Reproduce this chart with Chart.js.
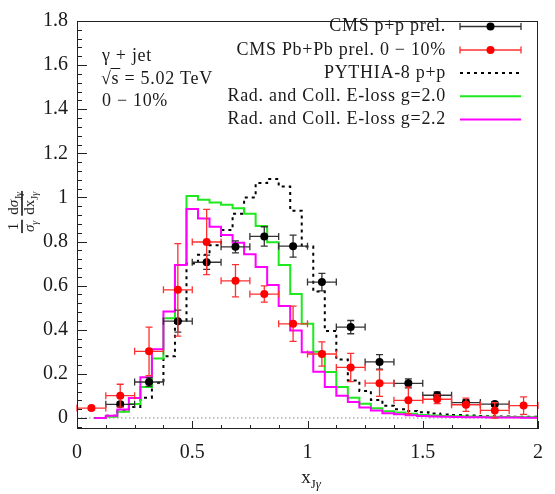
<!DOCTYPE html>
<html>
<head>
<meta charset="utf-8">
<script src="https://cdn.jsdelivr.net/npm/chart.js@4.4.0/dist/chart.umd.min.js"></script>
<style>
  html, body { margin: 0; padding: 0; background: #fff; }
</style>
</head>
<body>
<canvas id="chart" width="555" height="494"></canvas>
<script>
// -------------------------------
// DATA
// -------------------------------
// CMS p+p prel. (black points)
const ppX = [0.1875, 0.3125, 0.4375, 0.5625, 0.6875, 0.8125, 0.9375, 1.0625, 1.1875, 1.3125, 1.4375, 1.5625, 1.6875, 1.8125];
const ppY = [0.062, 0.163, 0.439, 0.706, 0.776, 0.823, 0.779, 0.616, 0.412, 0.254, 0.157, 0.103, 0.07, 0.063];
const ppErrY = [0.01, 0.02, 0.05, 0.032, 0.027, 0.044, 0.05, 0.04, 0.03, 0.033, 0.02, 0.015, 0.012, 0.01];

// CMS Pb+Pb prel. 0-10% (red points)
const pbX = [0.0625, 0.1875, 0.3125, 0.4375, 0.5625, 0.6875, 0.8125, 0.9375, 1.0625, 1.1875, 1.3125, 1.4375, 1.5625, 1.6875, 1.8125, 1.9375];
const pbY = [0.045, 0.101, 0.302, 0.581, 0.798, 0.622, 0.562, 0.427, 0.29, 0.229, 0.158, 0.08, 0.085, 0.06, 0.034, 0.056];
const pbErrY = [0.008, 0.052, 0.11, 0.21, 0.148, 0.073, 0.037, 0.08, 0.055, 0.064, 0.06, 0.06, 0.02, 0.03, 0.035, 0.04];

// bin width of the data points (x error = half of it)
const pointBinWidth = 0.125;

// histogram bin centres for the calculations
const histCenters = [0.10, 0.15, 0.20, 0.25, 0.30, 0.35, 0.40, 0.45, 0.50, 0.55, 0.60, 0.65, 0.70, 0.75, 0.80, 0.85, 0.90, 0.95, 1.00,
                     1.05, 1.10, 1.15, 1.20, 1.25, 1.30, 1.35, 1.40, 1.45, 1.50, 1.55, 1.60, 1.65, 1.70, 1.75, 1.80, 1.85, 1.90, 1.95, 2.00];

const pythiaY = [0.0, 0.01, 0.03, 0.05, 0.092, 0.16, 0.28, 0.44, 0.70, 0.74, 0.783, 0.852, 0.926, 1.0, 1.065, 1.084, 1.05, 0.94, 0.777,
                 0.573, 0.394, 0.265, 0.17, 0.122, 0.082, 0.055, 0.04, 0.032, 0.026, 0.02, 0.016, 0.013, 0.011, 0.009, 0.008, 0.007, 0.006, 0.005, 0.005];

const eloss20Y = [0.0, 0.006, 0.028, 0.063, 0.141, 0.27, 0.452, 0.694, 1.007, 0.989, 0.977, 0.967, 0.951, 0.926, 0.871, 0.797, 0.694, 0.562, 0.427,
                  0.30, 0.208, 0.141, 0.092, 0.064, 0.044, 0.031, 0.025, 0.019, 0.014, 0.011, 0.009, 0.008, 0.007, 0.006, 0.005, 0.004, 0.004, 0.003, 0.003];

const eloss22Y = [0.0, 0.01, 0.038, 0.09, 0.185, 0.312, 0.483, 0.694, 0.948, 0.904, 0.867, 0.830, 0.794, 0.742, 0.684, 0.603, 0.508, 0.397, 0.298,
                  0.21, 0.141, 0.101, 0.072, 0.048, 0.034, 0.021, 0.017, 0.012, 0.009, 0.007, 0.005, 0.004, 0.003, 0.003, 0.002, 0.002, 0.002, 0.001, 0.001];

// axis ticks
const xTicks = [0, 0.5, 1, 1.5, 2];
const yTicks = [0, 0.2, 0.4, 0.6, 0.8, 1.0, 1.2, 1.4, 1.6, 1.8];
const xMinorStep = 0.125;
const yMinorStep = 0.04;

const legendLabels = ["CMS p+p prel.", "CMS Pb+Pb prel. 0 \u2212 10%", "PYTHIA-8 p+p", "Rad. and Coll. E-loss g=2.0", "Rad. and Coll. E-loss g=2.2"];
const infoLines = ["\u03b3 + jet", "s = 5.02 TeV", "0 \u2212 10%"];

// -------------------------------
// HELPERS
// -------------------------------
const SERIF = "'Liberation Serif', 'Times New Roman', serif";

// histogram -> step points at bin left edges (+ closing point)
function histPoints(centers, vals) {
  const pts = [];
  for (let i = 0; i < centers.length; i++) {
    const left = i === 0 ? centers[0] - (centers[1] - centers[0]) / 2 : (centers[i - 1] + centers[i]) / 2;
    pts.push({ x: left, y: vals[i] });
  }
  const n = centers.length;
  pts.push({ x: Math.min(2, centers[n - 1] + (centers[n - 1] - centers[n - 2]) / 2), y: vals[n - 1] });
  return pts;
}

function drawRuns(ctx, runs, x, y) {
  // draws a list of text runs from x, returns end x
  runs.forEach(r => {
    ctx.font = r.font;
    ctx.fillText(r.t, x, y + (r.dy || 0));
    x += ctx.measureText(r.t).width;
  });
  return x;
}

function runsWidth(ctx, runs) {
  let w = 0;
  runs.forEach(r => { ctx.font = r.font; w += ctx.measureText(r.t).width; });
  return w;
}

function drawErrorBar(ctx, xs, ys, x, y, ex, ey, color) {
  const px = xs.getPixelForValue(x), py = ys.getPixelForValue(y);
  const x0 = xs.getPixelForValue(x - ex), x1 = xs.getPixelForValue(x + ex);
  const y0 = ys.getPixelForValue(y - ey), y1 = ys.getPixelForValue(y + ey);
  const cap = 3.5;
  ctx.strokeStyle = color;
  ctx.lineWidth = 1.3;
  ctx.beginPath();
  ctx.moveTo(x0, py); ctx.lineTo(x1, py);
  ctx.moveTo(x0, py - cap); ctx.lineTo(x0, py + cap);
  ctx.moveTo(x1, py - cap); ctx.lineTo(x1, py + cap);
  ctx.moveTo(px, y0); ctx.lineTo(px, y1);
  ctx.moveTo(px - cap, y0); ctx.lineTo(px + cap, y0);
  ctx.moveTo(px - cap, y1); ctx.lineTo(px + cap, y1);
  ctx.stroke();
}

// -------------------------------
// PLUGIN: frame, ticks, error bars, legend, labels
// -------------------------------
const decorPlugin = {
  id: "decor",
  beforeDatasetsDraw(chart) {
    const { ctx, chartArea: a, scales: { y } } = chart;
    const py = y.getPixelForValue(0);
    ctx.save();
    ctx.strokeStyle = "#888";
    ctx.lineWidth = 1;
    ctx.setLineDash([1.5, 2.5]);
    ctx.beginPath();
    ctx.moveTo(a.left, py); ctx.lineTo(a.right, py);
    ctx.stroke();
    ctx.restore();
  },
  beforeDatasetDraw(chart, args) {
    const ds = chart.data.datasets[args.index];
    if (!ds.errY) return;
    const { ctx, scales: { x, y } } = chart;
    ctx.save();
    ds.data.forEach((p, i) => drawErrorBar(ctx, x, y, p.x, p.y, pointBinWidth / 2, ds.errY[i], ds.errColor));
    ctx.restore();
  },
  afterDraw(chart) {
    const { ctx, chartArea: a, scales: { x, y } } = chart;
    ctx.save();

    // frame
    ctx.strokeStyle = "#222";
    ctx.lineWidth = 1;
    ctx.strokeRect(a.left + 0.5, a.top + 0.5, a.right - a.left - 1, a.bottom - a.top - 1);

    // inward ticks
    ctx.beginPath();
    for (let v = 0; v <= 2 + 1e-9; v += xMinorStep) {
      const px = Math.round(x.getPixelForValue(v)) + 0.5;
      const major = xTicks.some(t => Math.abs(t - v) < 1e-9);
      ctx.moveTo(px, a.bottom); ctx.lineTo(px, a.bottom - (major ? 8 : 4));
    }
    for (let v = -0.04; v <= 1.8 + 1e-9; v += yMinorStep) {
      const py = Math.round(y.getPixelForValue(v)) + 0.5;
      const major = yTicks.some(t => Math.abs(t - v) < 1e-6);
      ctx.moveTo(a.left, py); ctx.lineTo(a.left + (major ? 10 : 5), py);
    }
    ctx.stroke();

    ctx.fillStyle = "#1a1a1a";
    ctx.textBaseline = "middle";
    ctx.letterSpacing = "0.7px";

    // legend
    const rowY = [26.5, 50, 73, 96.3, 119.6];
    const textRight = 446, s0 = 460, s1 = 521;
    ctx.textAlign = "right";
    ctx.font = "18px " + SERIF;
    legendLabels.forEach((lab, i) => ctx.fillText(lab, textRight, rowY[i]));
    chart.data.datasets.forEach((ds, i) => {
      const ry = rowY[ds.legendRow];
      if (ds.errY) {
        const mid = (s0 + s1) / 2;
        ctx.strokeStyle = ds.errColor;
        ctx.lineWidth = 1.3;
        ctx.beginPath();
        ctx.moveTo(s0, ry); ctx.lineTo(s1, ry);
        ctx.moveTo(s0, ry - 3.5); ctx.lineTo(s0, ry + 3.5);
        ctx.moveTo(s1, ry - 3.5); ctx.lineTo(s1, ry + 3.5);
        ctx.stroke();
        ctx.fillStyle = ds.backgroundColor;
        ctx.beginPath();
        ctx.arc(mid, ry, 4, 0, Math.PI * 2);
        ctx.fill();
      } else {
        ctx.strokeStyle = ds.borderColor;
        ctx.lineWidth = ds.borderWidth;
        ctx.setLineDash(ds.borderDash || []);
        ctx.beginPath();
        ctx.moveTo(s0, ry); ctx.lineTo(s1, ry);
        ctx.stroke();
        ctx.setLineDash([]);
      }
    });

    // info text
    ctx.fillStyle = "#1a1a1a";
    ctx.textAlign = "left";
    ctx.font = "18px " + SERIF;
    ctx.fillText(infoLines[0], 102, 56);
    // sqrt(s)
    ctx.fillText("\u221a", 101, 79);
    const sx = 101 + ctx.measureText("\u221a").width;
    ctx.fillText(infoLines[1], sx, 79);
    ctx.lineWidth = 1;
    ctx.strokeStyle = "#1a1a1a";
    ctx.beginPath();
    ctx.moveTo(sx - 1, 68.5); ctx.lineTo(sx + ctx.measureText("s").width + 1, 68.5);
    ctx.stroke();
    ctx.fillText(infoLines[2], 102, 101);

    ctx.letterSpacing = "0px";

    // x axis title  x_{J gamma}
    const xt = [
      { t: "x", font: "19px " + SERIF },
      { t: "J", font: "13px " + SERIF, dy: 5 },
      { t: "\u03b3", font: "italic 13px " + SERIF, dy: 5 }
    ];
    ctx.textAlign = "left";
    ctx.textBaseline = "alphabetic";
    drawRuns(ctx, xt, 311 - runsWidth(ctx, xt) / 2, 483);

    // y axis title  1/sigma_gamma  d sigma_{J gamma} / d x_{J gamma}
    ctx.translate(22, 212);
    ctx.rotate(-Math.PI / 2);
    const big = "15px " + SERIF, bigI = "italic 15px " + SERIF, sm = "10px " + SERIF, smI = "italic 10px " + SERIF;
    const n1 = [{ t: "1", font: big }];
    const d1 = [{ t: "\u03c3", font: bigI }, { t: "\u03b3", font: smI, dy: 4 }];
    const n2 = [{ t: "d", font: big }, { t: "\u03c3", font: bigI }, { t: "J", font: sm, dy: 4 }, { t: "\u03b3", font: smI, dy: 4 }];
    const d2 = [{ t: "dx", font: big }, { t: "J", font: sm, dy: 4 }, { t: "\u03b3", font: smI, dy: 4 }];
    const w1 = Math.max(runsWidth(ctx, n1), runsWidth(ctx, d1)) + 2;
    const w2 = Math.max(runsWidth(ctx, n2), runsWidth(ctx, d2)) + 2;
    const gap = 4;
    let fx = -(w1 + gap + w2) / 2;
    ctx.fillStyle = "#1a1a1a";
    ctx.fillRect(fx, -0.8, w1, 1.6);
    drawRuns(ctx, n1, fx + (w1 - runsWidth(ctx, n1)) / 2, -4);
    drawRuns(ctx, d1, fx + (w1 - runsWidth(ctx, d1)) / 2, 12);
    fx += w1 + gap;
    ctx.fillRect(fx, -0.8, w2, 1.6);
    drawRuns(ctx, n2, fx + (w2 - runsWidth(ctx, n2)) / 2, -4);
    drawRuns(ctx, d2, fx + (w2 - runsWidth(ctx, d2)) / 2, 12);

    ctx.restore();
  }
};

// -------------------------------
// CHART
// -------------------------------
const ctx = document.getElementById("chart").getContext("2d");

new Chart(ctx, {
  data: {
    datasets: [
      { type: "line", label: legendLabels[2], legendRow: 2, data: histPoints(histCenters, pythiaY), stepped: "before",
        borderColor: "#000", borderWidth: 2, borderDash: [3, 4], pointRadius: 0, fill: false, order: 5 },
      { type: "line", label: legendLabels[3], legendRow: 3, data: histPoints(histCenters, eloss20Y), stepped: "before",
        borderColor: "#1ee81e", borderWidth: 2, pointRadius: 0, fill: false, order: 4 },
      { type: "line", label: legendLabels[4], legendRow: 4, data: histPoints(histCenters, eloss22Y), stepped: "before",
        borderColor: "#ff00ff", borderWidth: 2, pointRadius: 0, fill: false, order: 3 },
      { type: "scatter", label: legendLabels[0], legendRow: 0, data: ppX.map((v, i) => ({ x: v, y: ppY[i] })), errY: ppErrY,
        errColor: "#333", backgroundColor: "#000", borderWidth: 0, pointRadius: 4, order: 2 },
      { type: "scatter", label: legendLabels[1], legendRow: 1, data: pbX.map((v, i) => ({ x: v, y: pbY[i] })), errY: pbErrY,
        errColor: "#ff3030", backgroundColor: "#ff0000", borderWidth: 0, pointRadius: 4, order: 1 }
    ]
  },
  options: {
    responsive: false,
    animation: false,
    devicePixelRatio: 1,
    layout: { padding: { top: 8, right: 6, left: 0, bottom: 0 } },
    plugins: { legend: { display: false }, tooltip: { enabled: false } },
    scales: {
      x: {
        type: "linear", min: 0, max: 2,
        border: { display: false },
        grid: { display: false, drawTicks: false },
        ticks: { color: "#1a1a1a", font: { family: SERIF, size: 20 }, padding: 12, maxRotation: 0,
                 callback: v => String(Number(v.toFixed(2))) },
        afterBuildTicks: s => { s.ticks = xTicks.map(v => ({ value: v })); },
        afterFit: s => { s.height = 65; }
      },
      y: {
        type: "linear", min: -0.05, max: 1.8,
        border: { display: false },
        grid: { display: false, drawTicks: false },
        ticks: { color: "#1a1a1a", font: { family: SERIF, size: 20 }, padding: 9,
                 callback: v => String(Number(v.toFixed(2))) },
        afterBuildTicks: s => { s.ticks = yTicks.map(v => ({ value: v })); },
        afterFit: s => { s.width = 77; }
      }
    }
  },
  plugins: [decorPlugin]
});
</script>
</body>
</html>
